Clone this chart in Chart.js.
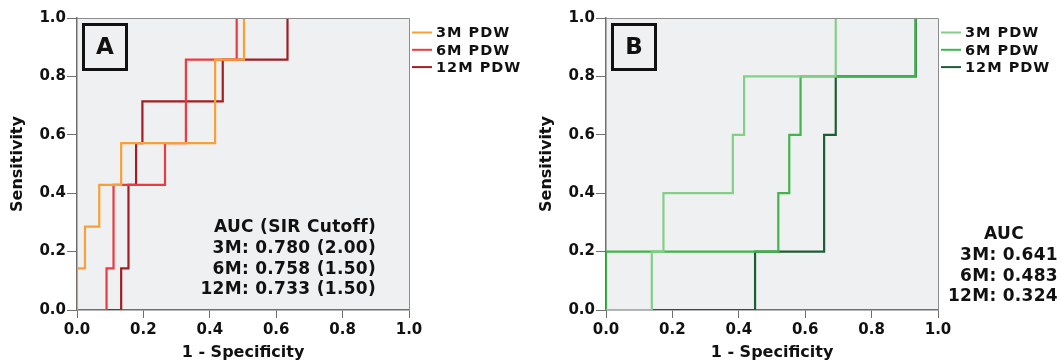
<!DOCTYPE html>
<html>
<head>
<meta charset="utf-8">
<script src="https://cdn.jsdelivr.net/npm/chart.js@4.4.1/dist/chart.umd.min.js"></script>
<style>
  body { margin: 0; background: #fff; }
  canvas { position: absolute; top: 0; }
  #rocA { left: 0; }
  #rocB { left: 529px; }
</style>
</head>
<body>
<canvas id="rocA" width="529" height="362"></canvas>
<canvas id="rocB" width="532" height="362"></canvas>
<script>
const seriesLabels = ["3M PDW", "6M PDW", "12M PDW"]

// panel A: ROC points (1 - specificity, sensitivity)
const a3mX = [0, 0, 0.024, 0.067, 0.133, 0.416, 0.503, 1]
const a3mY = [0, 1/7, 2/7, 3/7, 4/7, 6/7, 1, 1]
const a6mX = [0, 0.089, 0.11, 0.265, 0.328, 0.481, 1]
const a6mY = [0, 1/7, 3/7, 4/7, 6/7, 1, 1]
const a12mX = [0, 0.133, 0.155, 0.178, 0.197, 0.439, 0.634, 1]
const a12mY = [0, 1/7, 3/7, 4/7, 5/7, 6/7, 1, 1]

// panel B
const b3mX = [0, 0.138, 0.173, 0.382, 0.416, 0.692, 1]
const b3mY = [0, 0.2, 0.4, 0.6, 0.8, 1, 1]
const b6mX = [0, 0, 0.519, 0.552, 0.586, 0.932, 1]
const b6mY = [0, 0.2, 0.4, 0.6, 0.8, 1, 1]
const b12mX = [0, 0.449, 0.657, 0.692, 0.933, 1]
const b12mY = [0, 0.2, 0.6, 0.8, 1, 1]

const aucTextA = ["AUC (SIR Cutoff)", "3M: 0.780 (2.00)", "6M: 0.758 (1.50)", "12M: 0.733 (1.50)"]
const aucTextB = ["AUC", "3M: 0.641", "6M: 0.483", "12M: 0.324"]

const colorsA = ["#f8a038", "#ec3a43", "#a21e24"]
const colorsB = ["#84cf88", "#41b44b", "#1d5d34"]

const FONT = "'DejaVu Sans', Verdana, sans-serif"
const INK = "#111"

function pts(xs, ys) {
  return xs.map((x, i) => ({x: x, y: ys[i]}))
}

const rocDeco = {
  id: "rocDeco",
  beforeDraw(chart) {
    const {ctx, chartArea: a} = chart
    ctx.save()
    ctx.fillStyle = "#eff0f1"
    ctx.fillRect(a.left, a.top, a.right - a.left, a.bottom - a.top)
    ctx.restore()
  },
  afterDatasetsDraw(chart, args, opts) {
    const {ctx, chartArea: a} = chart
    ctx.save()
    // top / right frame
    ctx.strokeStyle = "#8c8c8c"
    ctx.lineWidth = 1
    ctx.beginPath()
    ctx.moveTo(a.left, a.top + 0.5)
    ctx.lineTo(a.right + 0.5, a.top + 0.5)
    ctx.lineTo(a.right + 0.5, a.bottom)
    ctx.stroke()

    // panel letter box
    ctx.strokeStyle = "#111"
    ctx.lineWidth = 3
    ctx.strokeRect(a.left + 6.5, a.top + 6.5, 43, 45)
    ctx.fillStyle = "#111"
    ctx.font = "bold 23px " + FONT
    ctx.textAlign = "center"
    ctx.textBaseline = "middle"
    ctx.fillText(opts.letter, a.left + 28, a.top + 30)

    // legend
    ctx.font = "bold 14.5px " + FONT
    ctx.letterSpacing = "1px"
    ctx.textAlign = "left"
    chart.data.datasets.forEach((ds, i) => {
      const y = a.top + 14.5 + i * 17.3
      ctx.strokeStyle = ds.borderColor
      ctx.lineWidth = 2
      ctx.beginPath()
      ctx.moveTo(a.right + 3, y)
      ctx.lineTo(a.right + 23, y)
      ctx.stroke()
      ctx.fillStyle = INK
      ctx.fillText(ds.label, a.right + 27, y + 1)
    })

    // AUC block
    ctx.letterSpacing = "0.3px"
    ctx.font = "bold 17px " + FONT
    opts.auc.forEach((t, i) => {
      ctx.textAlign = (i === 0 && opts.centerHead) ? "center" : "right"
      const x = (i === 0 && opts.centerHead) ? opts.headX : opts.aucX
      ctx.fillText(t, x, opts.aucY + i * 20.6)
    })
    ctx.restore()
  }
}

function makeChart(id, sets, colors, deco, padRight) {
  const datasets = sets.map((d, i) => ({
    label: seriesLabels[i],
    data: d,
    borderColor: colors[i],
    borderWidth: 2.2,
    showLine: true,
    stepped: "before",
    pointRadius: 0,
    fill: false
  }))
  const tickFont = {family: FONT, size: 15, weight: "bold"}
  const titleFont = {family: FONT, size: 16, weight: "bold"}
  return new Chart(document.getElementById(id), {
    type: "scatter",
    data: {datasets: datasets},
    options: {
      responsive: false,
      animation: false,
      devicePixelRatio: 1,
      layout: {padding: {top: 18, right: padRight, left: 0, bottom: 0}},
      plugins: {
        legend: {display: false},
        tooltip: {enabled: false},
        rocDeco: deco
      },
      scales: {
        x: {
          type: "linear",
          min: 0, max: 1,
          afterFit: s => { s.height = 52 },
          grid: {drawOnChartArea: false, drawTicks: true, tickLength: 8, color: "#6f6f6f"},
          border: {display: true, color: "#6f6f6f", width: 1.5},
          ticks: {stepSize: 0.2, padding: 3, color: INK, font: tickFont,
                  callback: v => v.toFixed(1)},
          title: {display: true, text: "1 - Specificity", color: INK, font: titleFont,
                  padding: {top: 0, bottom: 0}}
        },
        y: {
          type: "linear",
          min: 0, max: 1,
          afterFit: s => { s.width = 77 },
          grid: {drawOnChartArea: false, drawTicks: true, tickLength: 10, color: "#6f6f6f"},
          border: {display: true, color: "#6f6f6f", width: 1.5},
          ticks: {stepSize: 0.2, padding: 1, color: INK, font: tickFont,
                  callback: v => v.toFixed(1)},
          title: {display: true, text: "Sensitivity", color: INK, font: titleFont,
                  padding: {top: 8, bottom: 0}}
        }
      }
    },
    plugins: [rocDeco]
  })
}

makeChart("rocA",
  [pts(a3mX, a3mY), pts(a6mX, a6mY), pts(a12mX, a12mY)],
  colorsA,
  {letter: "A", auc: aucTextA, aucX: 376, aucY: 228, centerHead: false},
  529 - 409)

makeChart("rocB",
  [pts(b3mX, b3mY), pts(b6mX, b6mY), pts(b12mX, b12mY)],
  colorsB,
  {letter: "B", auc: aucTextB, aucX: 1058 - 529, aucY: 235, centerHead: true, headX: 1004 - 529},
  532 - 409)
</script>
</body>
</html>
